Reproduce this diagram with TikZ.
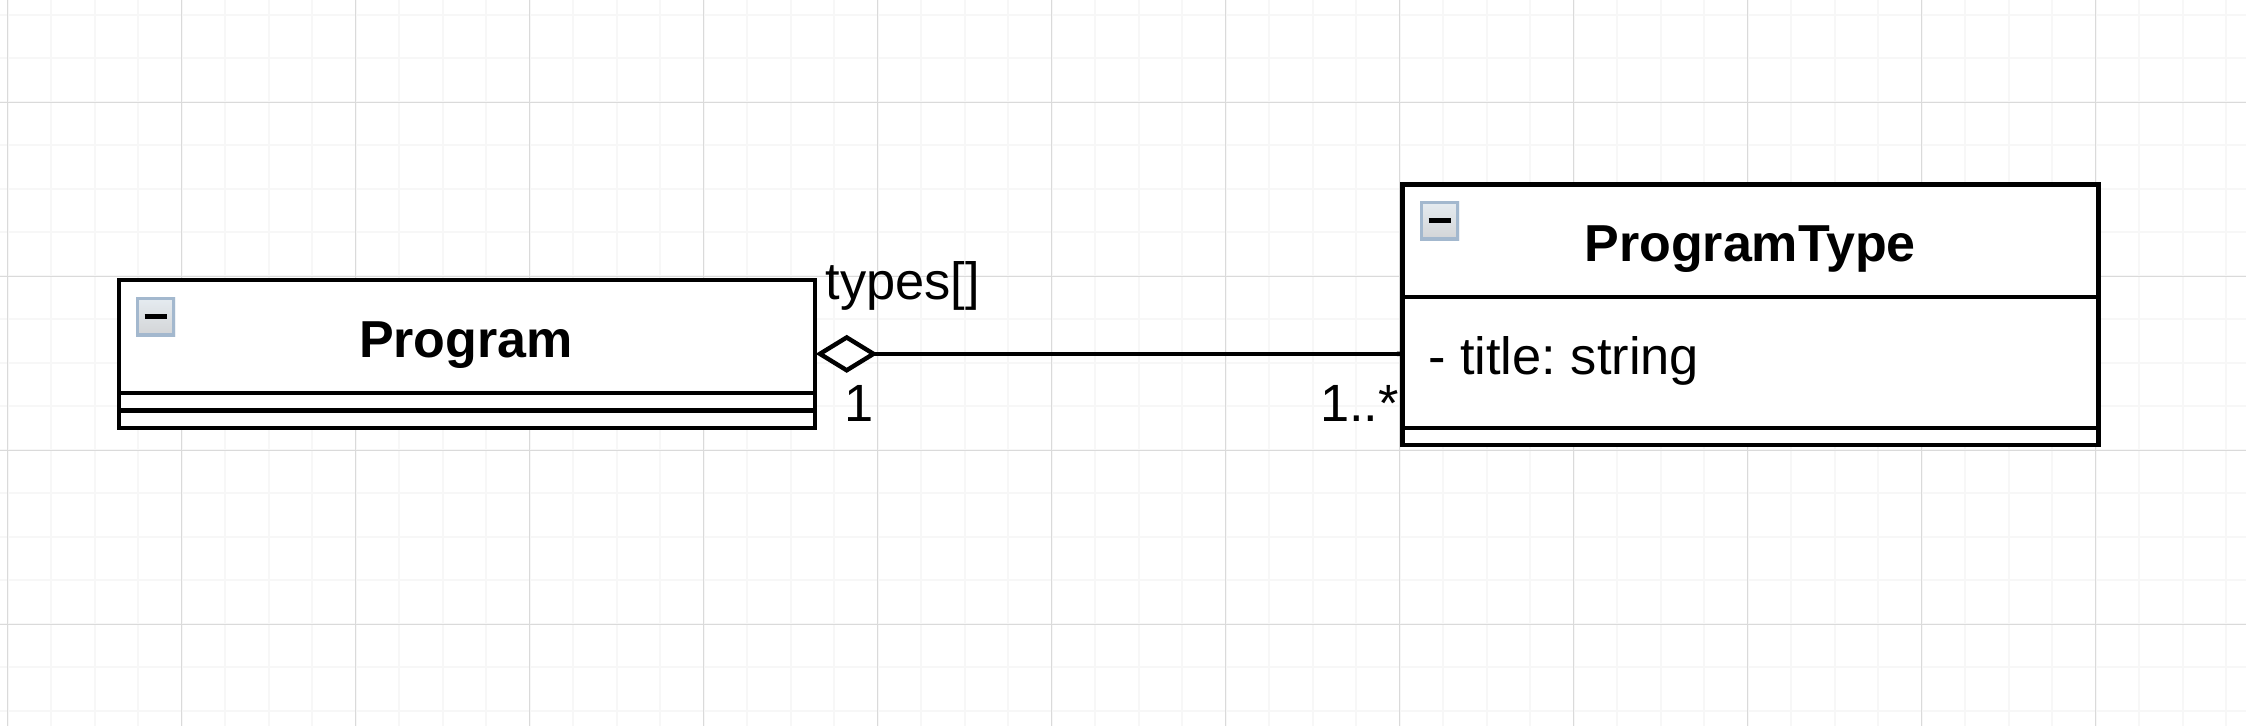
\documentclass[tikz,border=0pt]{standalone}
\usepackage{fontspec}
\setmainfont{Liberation Sans}
\usetikzlibrary{arrows.meta,calc}
\definecolor{gridmajor}{HTML}{DADADA}
\definecolor{gridminor}{HTML}{F7F7F7}
\definecolor{iconedge}{HTML}{A3B8CE}
\definecolor{icontop}{HTML}{E6ECF1}
\definecolor{iconbot}{HTML}{D2D4D6}
\frenchspacing
\tikzset{
  umlbox/.style={draw=black,line width=4.4pt,fill=white,rectangle,inner sep=0pt,outer sep=0pt,anchor=north west},
  sep/.style={draw=black,line width=4.4pt},
  titletext/.style={font=\fontsize{52}{62}\selectfont\bfseries,inner sep=0pt,anchor=base},
  labeltext/.style={font=\fontsize{52.4}{62}\selectfont,inner sep=0pt},
  icon/.style={rectangle,draw=none,inner sep=0pt,outer sep=0pt,minimum size=39pt,anchor=north west,
     top color=icontop,bottom color=iconbot,
     path picture={
       \draw[line width=6pt,color=iconedge] (path picture bounding box.south west) rectangle (path picture bounding box.north east);
       \draw[black,line width=4.4pt] ($(path picture bounding box.center)+(-11pt,0)$) -- ($(path picture bounding box.center)+(11pt,0)$);
     }},
  assoc/.style={draw=black,line width=4.4pt,{Diamond[length=62pt,width=38pt,open,fill=white,line width=4.4pt]}-{Butt Cap[]}},
}
\begin{document}
\begin{tikzpicture}[x=1pt,y=-1pt]
\useasboundingbox[fill=white] (0,0) rectangle (2246,726);
% minor grid
\foreach \i in {0,...,51}{\draw[gridminor,line width=2pt] ({7.5+43.5*\i},0) -- ({7.5+43.5*\i},726);}
\foreach \i in {0,...,16}{\draw[gridminor,line width=2pt] (0,{14.5+43.5*\i}) -- (2246,{14.5+43.5*\i});}
% major grid
\foreach \i in {0,...,12}{\draw[gridmajor,line width=1.5pt] ({7.5+174*\i},0) -- ({7.5+174*\i},726);}
\foreach \i in {0,...,3}{\draw[gridmajor,line width=1.5pt] (0,{102.7+174*\i}) -- (2246,{102.7+174*\i});}
% Program class
\node[umlbox,minimum width=695.7pt,minimum height=147.7pt] (prog) at (119,280) {};
\draw[sep] (119,393) -- (814.7,393);
\draw[sep] (119,410.5) -- (814.7,410.5);
\node[icon] (progicon) at (136,297) {};
\node[titletext] (progtitle) at (466,357.3) {Program};
% ProgramType class
\node[umlbox,minimum width=696pt,minimum height=260.7pt] (ptype) at (1402.3,184.3) {};
\draw[sep] (1402.3,297) -- (2098.3,297);
\draw[sep] (1402.3,427.7) -- (2098.3,427.7);
\node[icon] (ptypeicon) at (1420,201) {};
\node[titletext] (ptypetitle) at (1750,261.7) {ProgramType};
\node[labeltext,anchor=base west] (attr) at (1428,374) {- title: string};
% association
\draw[assoc,shorten <=1pt] (prog.east) -- (prog.east -| ptype.west);
\node[labeltext,anchor=base west] (role) at (825.5,299) {types[]};
\node[labeltext,anchor=base west] (multa) at (844.5,421) {1};
\node[labeltext,anchor=base east] (multb) at (1399,421) {1..*};
\end{tikzpicture}
\end{document}
